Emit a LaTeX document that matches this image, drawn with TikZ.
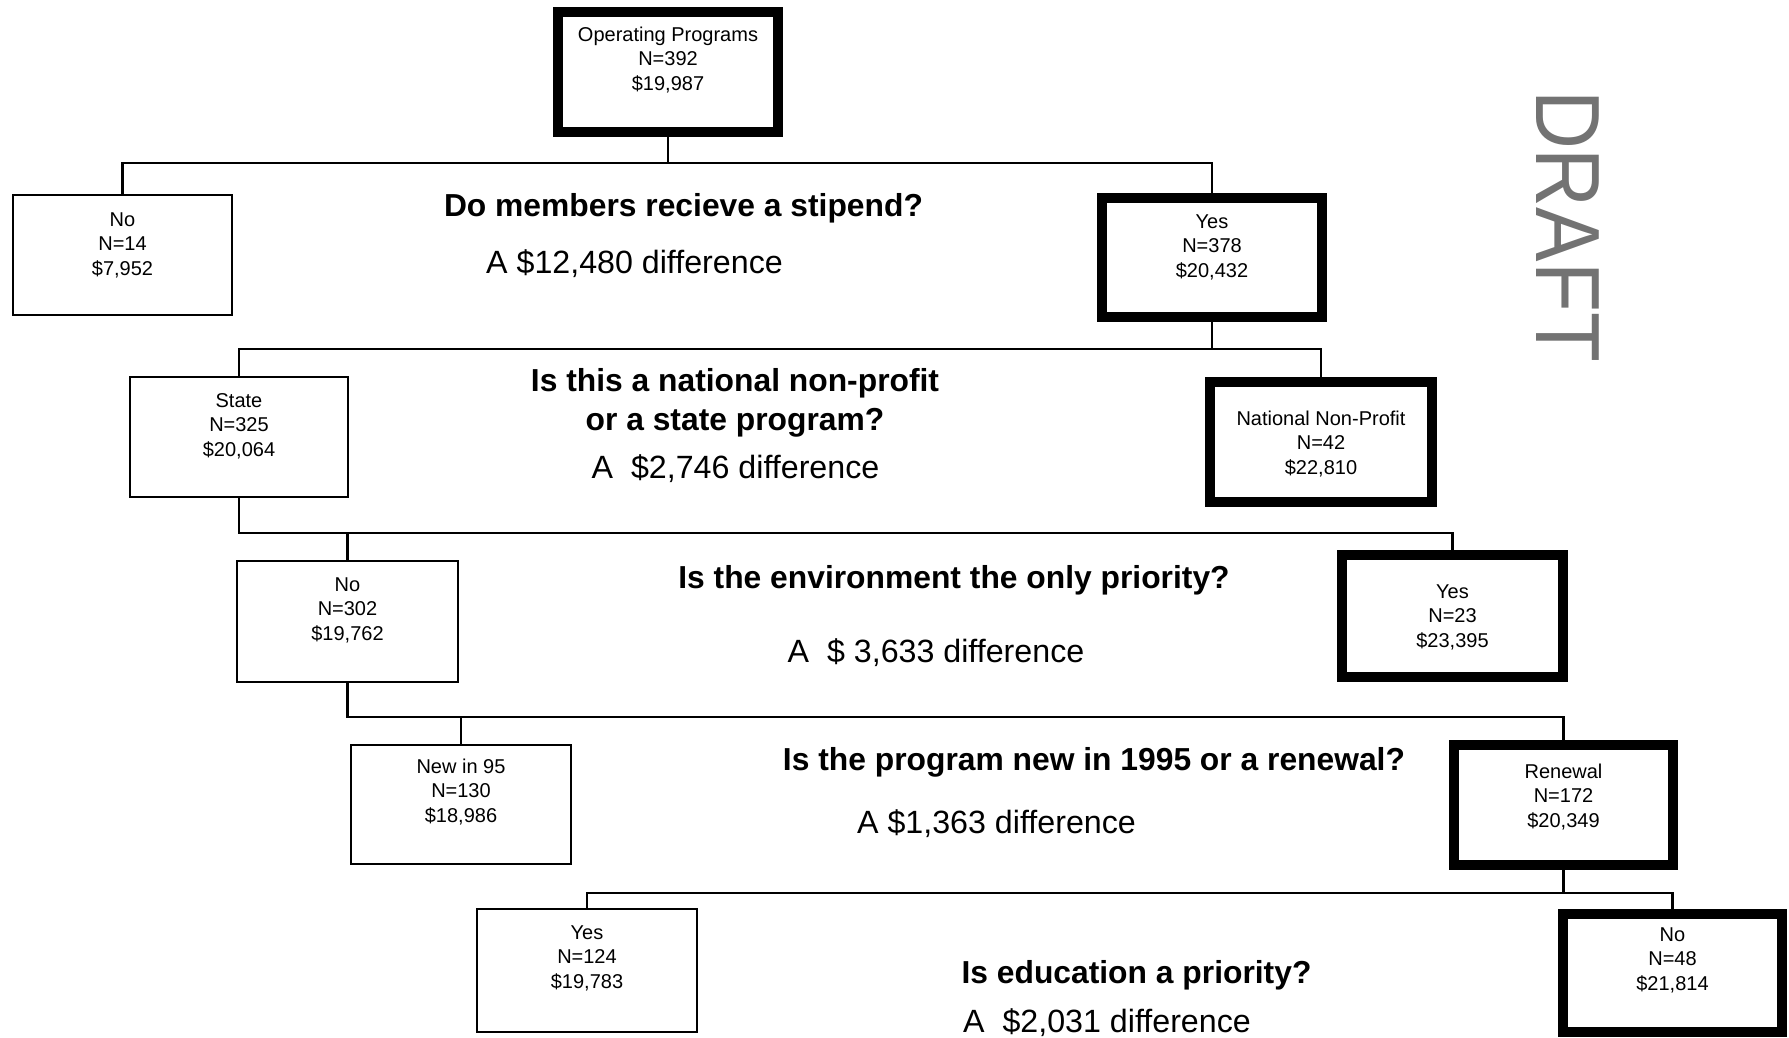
\documentclass[tikz,border=0pt]{standalone}
\usepackage{fontspec}
\setmainfont{Liberation Sans}
\begin{document}
\begin{tikzpicture}[x=1pt,y=-1pt,
  thickbox/.style={draw, line width=10pt, inner sep=0pt},
  thinbox/.style={draw, line width=2.5pt, inner sep=0pt},
  boxtext/.style={align=center, font=\fontsize{20}{24.5}\selectfont, inner sep=0pt},
  question/.style={font=\fontsize{31.8}{38.5}\selectfont\bfseries, align=center, inner sep=0pt},
  diff/.style={font=\fontsize{32.2}{38}\selectfont, inner sep=0pt},
  conn/.style={line width=2.5pt}]
\useasboundingbox (0,0) rectangle (1789,1038);

% boxes
\node[thickbox, minimum width=220pt, minimum height=120pt] (root) at (668,72) {};
\node[thinbox, minimum width=219pt, minimum height=120pt] (no14) at (122.5,255) {};
\node[thickbox, minimum width=220pt, minimum height=119pt] (yes1) at (1212,257.5) {};
\node[thinbox, minimum width=218pt, minimum height=120pt] (state) at (239,437) {};
\node[thickbox, minimum width=222pt, minimum height=120pt] (nnp) at (1321,442) {};
\node[thinbox, minimum width=221pt, minimum height=121pt] (no302) at (347.5,621.5) {};
\node[thickbox, minimum width=221pt, minimum height=122pt] (yes23) at (1452.5,616) {};
\node[thinbox, minimum width=220pt, minimum height=119pt] (new95) at (461,804.5) {};
\node[thickbox, minimum width=219pt, minimum height=120pt] (renew) at (1563.5,805) {};
\node[thinbox, minimum width=220pt, minimum height=123pt] (yes124) at (587,970.5) {};
\node[thickbox, minimum width=219pt, minimum height=118pt] (no48) at (1672.5,973) {};

% box texts
\node[boxtext] (roott) at (668,60) {Operating Programs\\N=392\\\$19,987};
\node[boxtext] (no14t) at (122.5,245) {No\\N=14\\\$7,952};
\node[boxtext] (yes1t) at (1212,247) {Yes\\N=378\\\$20,432};
\node[boxtext] (statet) at (239,426) {State\\N=325\\\$20,064};
\node[boxtext] (nnpt) at (1321,444) {National Non-Profit\\N=42\\\$22,810};
\node[boxtext] (no302t) at (347.5,610) {No\\N=302\\\$19,762};
\node[boxtext] (yes23t) at (1452.5,617) {Yes\\N=23\\\$23,395};
\node[boxtext] (new95t) at (461,792) {New in 95\\N=130\\\$18,986};
\node[boxtext] (renewt) at (1563.5,797) {Renewal\\N=172\\\$20,349};
\node[boxtext] (yes124t) at (587,958) {Yes\\N=124\\\$19,783};
\node[boxtext] (no48t) at (1672.5,960) {No\\N=48\\\$21,814};

% questions and differences
\node[question] (q1) at (683.5,208) {Do members recieve a stipend?};
\node[diff] (d1) at (634.5,264) {A \$12,480 difference};
\node[question] (q2) at (735,403) {Is this a national non-profit\\or a state program?};
\node[diff] (d2) at (735.5,469) {A~~\$2,746 difference};
\node[question] (q3) at (954,580) {Is the environment the only priority?};
\node[diff] (d3) at (936,653) {A~~\$~3,633 difference};
\node[question] (q4) at (1094,762) {Is the program new in 1995 or a renewal?};
\node[diff] (d4) at (996.5,824) {A \$1,363 difference};
\node[question] (q5) at (1136.5,975) {Is education a priority?};
\node[diff] (d5) at (1107,1023) {A~~\$2,031 difference};

% watermark
\node[rotate=-90, text=black!55, font=\fontsize{96}{96}\selectfont, inner sep=0pt] (draft) at (1567.5,226) {\scalebox{0.85}[0.95]{DRAFT}};

% levels
\coordinate (L1) at (0,163);
\coordinate (L2) at (0,349);
\coordinate (L3) at (0,533);
\coordinate (L4) at (0,717);
\coordinate (L5) at (0,893);

% connectors
\draw[conn] (root.south) -- (root.south |- L1);
\draw[conn] (no14.north) -- (no14.north |- L1) -- (yes1.north |- L1) -- (yes1.north);
\draw[conn] (yes1.south) -- (yes1.south |- L2);
\draw[conn] (state.north) -- (state.north |- L2) -- (nnp.north |- L2) -- (nnp.north);
\draw[conn] (state.south) -- (state.south |- L3) -- (yes23.north |- L3) -- (yes23.north);
\draw[conn] (no302.north) -- (no302.north |- L3);
\draw[conn] (no302.south) -- (no302.south |- L4) -- (renew.north |- L4) -- (renew.north);
\draw[conn] (new95.north) -- (new95.north |- L4);
\draw[conn] (renew.south) -- (renew.south |- L5);
\draw[conn] (yes124.north) -- (yes124.north |- L5) -- (no48.north |- L5) -- (no48.north);
\end{tikzpicture}
\end{document}
